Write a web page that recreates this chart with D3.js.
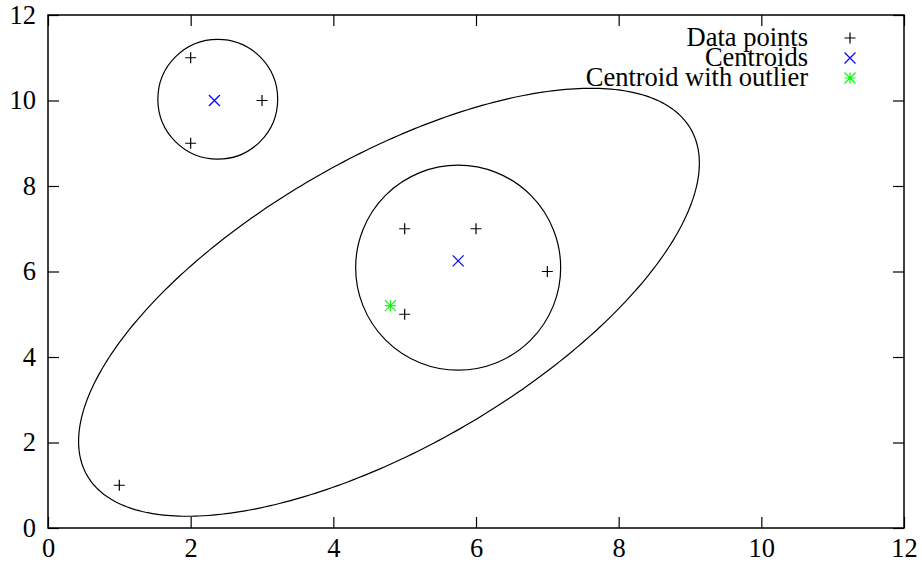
<!DOCTYPE html>
<html>
<head>
<meta charset="utf-8">
<script src="https://cdn.jsdelivr.net/npm/d3@7"></script>
<style>
  body { margin: 0; background: #fff; }
</style>
</head>
<body>
<div id="chart"></div>
<script>
const width = 922;
const height = 563;
const serif = "'Liberation Serif', 'Times New Roman', Times, serif";

// Données
const dataPoints = [[1, 1], [2, 11], [3, 10], [2, 9], [5, 7], [6, 7], [7, 6], [5, 5]];
const centroids = [[2.333, 10], [5.75, 6.25]];
const outlierCentroids = [[4.8, 5.2]];
// cercles : [cx, cy, rayon en unités x]
const circles = [[2.38, 10.03, 0.84], [5.75, 6.09, 1.437]];
// ellipse : [cx, cy, demi-grand axe, demi-petit axe, angle en degrés]
const ellipses = [[4.78, 5.28, 6.04, 2.74, 51.1]];
const xTicks = [0, 2, 4, 6, 8, 10, 12];
const yTicks = [0, 2, 4, 6, 8, 10, 12];
const legendLabels = ["Data points", "Centroids", "Centroid with outlier"];

const margin = { top: 15, right: 18, bottom: 35, left: 48 };

const svg = d3.select("#chart")
    .append("svg")
    .attr("width", width)
    .attr("height", height);

const x = d3.scaleLinear().domain([0, 12]).range([margin.left, width - margin.right]);
const y = d3.scaleLinear().domain([0, 12]).range([height - margin.bottom, margin.top]);

const tickLen = 11;

// Axes (ticks vers l'intérieur, sur les 4 côtés)
const bottomAxis = d3.axisBottom(x).tickValues(xTicks).tickSize(-tickLen).tickPadding(10).tickFormat(d3.format("d"));
const leftAxis = d3.axisLeft(y).tickValues(yTicks).tickSize(-tickLen).tickPadding(12).tickFormat(d3.format("d"));
const topAxis = d3.axisTop(x).tickValues(xTicks).tickSize(-tickLen).tickFormat("");
const rightAxis = d3.axisRight(y).tickValues(yTicks).tickSize(-tickLen).tickFormat("");

function styleAxis(g) {
    g.attr("font-family", null).attr("font-size", null);
    g.select(".domain").remove();
    g.selectAll(".tick line").attr("stroke", "#000").attr("stroke-width", 1.2);
    g.selectAll(".tick text")
        .attr("fill", "#000")
        .style("font-family", serif)
        .style("font-size", "26.5px");
}

svg.append("g").attr("transform", `translate(0,${y(0)})`).call(bottomAxis).call(styleAxis);
svg.append("g").attr("transform", `translate(${x(0)},0)`).call(leftAxis).call(styleAxis);
svg.append("g").attr("transform", `translate(0,${y(12)})`).call(topAxis).call(styleAxis);
svg.append("g").attr("transform", `translate(${x(12)},0)`).call(rightAxis).call(styleAxis);

// Cadre
svg.append("rect")
    .attr("x", x(0)).attr("y", y(12))
    .attr("width", x(12) - x(0)).attr("height", y(0) - y(12))
    .attr("fill", "none").attr("stroke", "#000").attr("stroke-width", 1.5);

// Cercles
svg.selectAll(".circle")
    .data(circles)
    .join("circle")
    .attr("class", "circle")
    .attr("cx", d => x(d[0]))
    .attr("cy", d => y(d[1]))
    .attr("r", d => x(d[2]) - x(0))
    .attr("fill", "none")
    .attr("stroke", "#000")
    .attr("stroke-width", 1.2);

// Ellipse (tracée en coordonnées des données)
const ellipseLine = d3.line().x(p => x(p[0])).y(p => y(p[1])).curve(d3.curveLinearClosed);
svg.selectAll(".ellipse")
    .data(ellipses)
    .join("path")
    .attr("class", "ellipse")
    .attr("d", ([cx, cy, a, b, ang]) => {
        const th = ang * Math.PI / 180;
        const pts = d3.range(0, 2 * Math.PI, Math.PI / 180).map(t => [
            cx + a * Math.cos(t) * Math.cos(th) - b * Math.sin(t) * Math.sin(th),
            cy + a * Math.cos(t) * Math.sin(th) + b * Math.sin(t) * Math.cos(th)
        ]);
        return ellipseLine(pts);
    })
    .attr("fill", "none")
    .attr("stroke", "#000")
    .attr("stroke-width", 1.2);

// Symboles
const s = 5.5;
const plusPath = `M${-s},0H${s}M0,${-s}V${s}`;
const crossPath = `M${-s},${-s}L${s},${s}M${-s},${s}L${s},${-s}`;
const starPath = plusPath + crossPath;

const series = [
    { data: dataPoints, path: plusPath, color: "#000" },
    { data: centroids, path: crossPath, color: "#0000ff" },
    { data: outlierCentroids, path: starPath, color: "#00ff00" }
];

series.forEach(ser => {
    svg.append("g").selectAll("path")
        .data(ser.data)
        .join("path")
        .attr("transform", d => `translate(${x(d[0])},${y(d[1])})`)
        .attr("d", ser.path)
        .attr("fill", "none")
        .attr("stroke", ser.color)
        .attr("stroke-width", 1.2);
});

// Légende
const legend = svg.append("g");
legendLabels.forEach((label, i) => {
    const ly = 38 + i * 20;
    legend.append("text")
        .attr("x", 808)
        .attr("y", ly + 8)
        .attr("text-anchor", "end")
        .style("font-family", serif)
        .style("font-size", "26.5px")
        .text(label);
    legend.append("path")
        .attr("transform", `translate(850,${ly})`)
        .attr("d", series[i].path)
        .attr("fill", "none")
        .attr("stroke", series[i].color)
        .attr("stroke-width", 1.2);
});
</script>
</body>
</html>
